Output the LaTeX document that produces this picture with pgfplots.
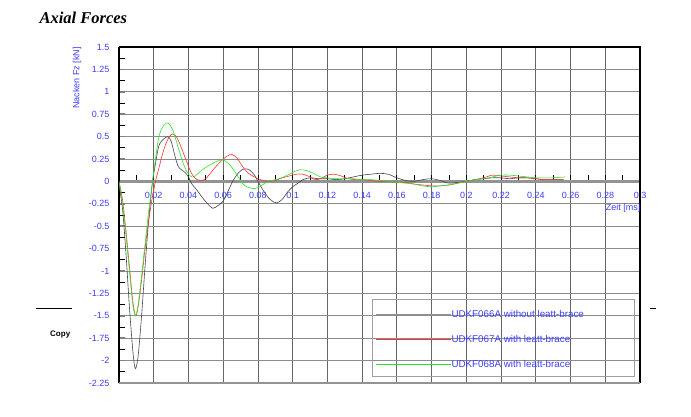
\documentclass[border=0pt]{standalone}
\usepackage{fontspec}
\setmainfont{Liberation Sans}
\newfontfamily\titlefont{Liberation Serif}
\usepackage{pgfplots}
\pgfplotsset{compat=1.18}
\definecolor{tickblue}{RGB}{60,60,255}
\definecolor{curvegray}{RGB}{70,70,70}
\definecolor{curvered}{RGB}{255,50,50}
\definecolor{curvegreen}{RGB}{40,230,40}

% Nacken Fz [kN] over Zeit [ms]
\pgfplotstableread{
x y
0 -0.05
0.002 -0.3
0.004 -0.8
0.006 -1.4
0.008 -1.9
0.0094 -2.09
0.011 -1.95
0.013 -1.5
0.015 -0.95
0.017 -0.45
0.019 -0.05
0.021 0.2
0.023 0.4
0.025 0.46
0.028 0.5
0.030 0.45
0.032 0.3
0.034 0.17
0.036 0.13
0.038 0.1
0.040 0.05
0.042 -0.03
0.045 -0.1
0.048 -0.18
0.051 -0.25
0.054 -0.3
0.057 -0.27
0.060 -0.22
0.063 -0.1
0.066 0.02
0.069 0.1
0.072 0.14
0.075 0.13
0.078 0.07
0.080 0.0
0.083 -0.1
0.086 -0.18
0.089 -0.23
0.091 -0.24
0.094 -0.2
0.097 -0.12
0.100 -0.06
0.103 -0.02
0.106 0.02
0.110 0.04
0.115 0.03
0.12 0.03
0.125 0.02
0.13 0.03
0.135 0.05
0.14 0.07
0.145 0.08
0.15 0.09
0.155 0.08
0.16 0.04
0.165 0.01
0.17 0.0
0.175 0.02
0.18 0.03
0.185 0.01
0.19 -0.02
0.195 -0.01
0.2 0.0
0.205 0.02
0.21 0.03
0.215 0.04
0.22 0.04
0.225 0.03
0.23 0.04
0.235 0.04
0.24 0.03
0.245 0.02
0.25 0.02
0.256 0.02
}\dataA

\pgfplotstableread{
x y
0 0.0
0.002 -0.2
0.004 -0.55
0.006 -0.95
0.008 -1.35
0.0096 -1.5
0.011 -1.4
0.013 -1.1
0.015 -0.75
0.017 -0.45
0.019 -0.2
0.021 0.0
0.023 0.15
0.025 0.3
0.027 0.42
0.029 0.5
0.031 0.53
0.033 0.5
0.035 0.42
0.037 0.32
0.039 0.22
0.041 0.12
0.043 0.05
0.045 0.02
0.048 0.01
0.05 0.03
0.053 0.1
0.056 0.17
0.059 0.23
0.062 0.28
0.065 0.3
0.068 0.26
0.071 0.17
0.074 0.1
0.077 0.06
0.080 0.03
0.083 0.01
0.086 0.0
0.09 0.01
0.094 0.04
0.098 0.06
0.102 0.08
0.106 0.08
0.11 0.05
0.113 0.02
0.116 0.03
0.12 0.07
0.124 0.08
0.128 0.06
0.132 0.03
0.136 0.02
0.14 0.02
0.145 0.01
0.15 0.0
0.155 0.0
0.16 -0.01
0.165 -0.01
0.17 -0.03
0.175 -0.04
0.18 -0.05
0.185 -0.05
0.19 -0.04
0.195 -0.02
0.2 0.0
0.205 0.02
0.21 0.04
0.215 0.07
0.22 0.06
0.225 0.05
0.23 0.04
0.235 0.04
0.24 0.03
0.245 0.02
0.25 0.02
0.256 0.02
}\dataB

\pgfplotstableread{
x y
0 0.0
0.002 -0.25
0.004 -0.6
0.006 -1.0
0.008 -1.38
0.0095 -1.5
0.011 -1.38
0.013 -1.05
0.015 -0.7
0.017 -0.35
0.019 -0.05
0.021 0.25
0.023 0.5
0.025 0.6
0.027 0.65
0.029 0.64
0.031 0.57
0.033 0.45
0.035 0.32
0.037 0.2
0.039 0.11
0.041 0.06
0.043 0.05
0.045 0.08
0.048 0.13
0.051 0.17
0.054 0.2
0.057 0.23
0.06 0.24
0.063 0.2
0.066 0.13
0.069 0.04
0.072 -0.04
0.075 -0.07
0.078 -0.08
0.081 -0.06
0.084 -0.02
0.088 0.01
0.092 0.03
0.096 0.06
0.1 0.1
0.104 0.13
0.108 0.12
0.112 0.09
0.116 0.05
0.12 0.04
0.125 0.03
0.13 0.03
0.135 0.03
0.14 0.02
0.145 0.02
0.15 0.01
0.155 0.0
0.16 -0.01
0.165 -0.02
0.17 -0.03
0.175 -0.05
0.18 -0.06
0.185 -0.05
0.19 -0.04
0.195 -0.02
0.2 0.0
0.205 0.02
0.21 0.03
0.215 0.05
0.22 0.07
0.225 0.07
0.23 0.06
0.235 0.05
0.24 0.04
0.245 0.04
0.25 0.04
0.257 0.05
}\dataC

\begin{document}
\begin{tikzpicture}[x=1pt,y=1pt]
\path[use as bounding box] (0,0) rectangle (691,416);

\node[anchor=west,font=\titlefont\bfseries\itshape\fontsize{16.5}{18}\selectfont] at (36,398) {Axial Forces};

% stray bits of the page behind
\draw[line width=1pt] (36,108) -- (72,108);
\draw[line width=1pt] (650,108) -- (656,108);
\node[anchor=west,inner sep=0pt,font=\bfseries\fontsize{8}{9}\selectfont] at (50,81) {Copy};

\begin{axis}[
  name=ax,
  at={(119pt,33pt)}, anchor=south west,
  scale only axis, width=521pt, height=336pt,
  xmin=0, xmax=0.3, ymin=-2.25, ymax=1.5,
  axis x line=middle, axis y line=left,
  x axis line style={-, draw=gray!85, line width=2.5pt},
  y axis line style={-, draw=black, line width=1.2pt},
  xtick={0,0.02,0.04,0.06,0.08,0.1,0.12,0.14,0.16,0.18,0.2,0.22,0.24,0.26,0.28,0.3},
  minor xtick={0.01,0.03,0.05,0.07,0.09,0.11,0.13,0.15,0.17,0.19,0.21,0.23,0.25,0.27,0.29},
  ytick={-2.25,-2,-1.75,-1.5,-1.25,-1,-0.75,-0.5,-0.25,0,0.25,0.5,0.75,1,1.25,1.5},
  minor ytick={-2.125,-1.875,-1.625,-1.375,-1.125,-0.875,-0.625,-0.375,-0.125,0.125,0.375,0.625,0.875,1.125,1.375},
  scaled x ticks=false, scaled y ticks=false,
  xticklabel style={/pgf/number format/fixed,/pgf/number format/precision=2},
  yticklabel style={/pgf/number format/fixed,/pgf/number format/precision=2},
  /pgf/number format/assume math mode=true,
  tick label style={font=\fontsize{9}{10}\selectfont, text=tickblue},
  yticklabel style={xshift=-6pt},
  xticklabel style={yshift=-7pt},
  major tick length=6pt, minor tick length=6pt,
  x tick style={black, line width=0.8pt},
  y tick style={line width=0.8pt},
  every major y tick/.style={draw=gray, line width=1.6pt},
  every minor y tick/.style={draw=black, line width=0.8pt},
  tick align=inside,
  xmajorgrids, ymajorgrids,
  x grid style={draw=black!60, line width=0.8pt},
  y grid style={draw=black!45, line width=0.8pt},
  legend image code/.code={\path[draw=none] (0pt,3pt) -- (75pt,3pt);},
  legend cell align=left,
  legend style={at={(axis cs:0.1476,-1.44)}, anchor=north west,
    draw=none, fill=none, inner sep=0pt, row sep=15pt,
    font=\fontsize{9.8}{11}\selectfont, text=tickblue,
    nodes={inner sep=1pt, text height=6pt, text depth=2pt}},
]
\addplot[draw=curvegray, line width=0.6pt, smooth] table {\dataA};
\addlegendentry{UDKF066A without leatt-brace}
\addplot[draw=curvered, line width=0.6pt, smooth] table {\dataB};
\addlegendentry{UDKF067A with leatt-brace}
\addplot[draw=curvegreen, line width=0.6pt, smooth] table {\dataC};
\addlegendentry{UDKF068A with leatt-brace}
\draw[gray!75, line width=1.2pt] (axis cs:0.1458,-1.32) rectangle (axis cs:0.2968,-2.18);
\end{axis}
\draw[black, line width=1.2pt] (ax.north west) -- (ax.north east) -- (ax.south east);
\draw[gray!85, line width=2.5pt] (ax.south west) -- (ax.south east);
% legend samples, drawn last so the grid does not hide them
\draw[curvegray!60, line width=0.8pt] (376,102) -- (451,102);
\draw[curvered, line width=0.8pt] (376,77) -- (451,77);
\draw[curvegreen, line width=0.8pt] (376,52) -- (451,52);

\node[rotate=90, font=\fontsize{9}{10}\selectfont, text=tickblue] at (77,338) {Nacken Fz [kN]};
\node[font=\fontsize{9}{10}\selectfont, text=tickblue] at (623,208) {Zeit [ms]};
\end{tikzpicture}
\end{document}
